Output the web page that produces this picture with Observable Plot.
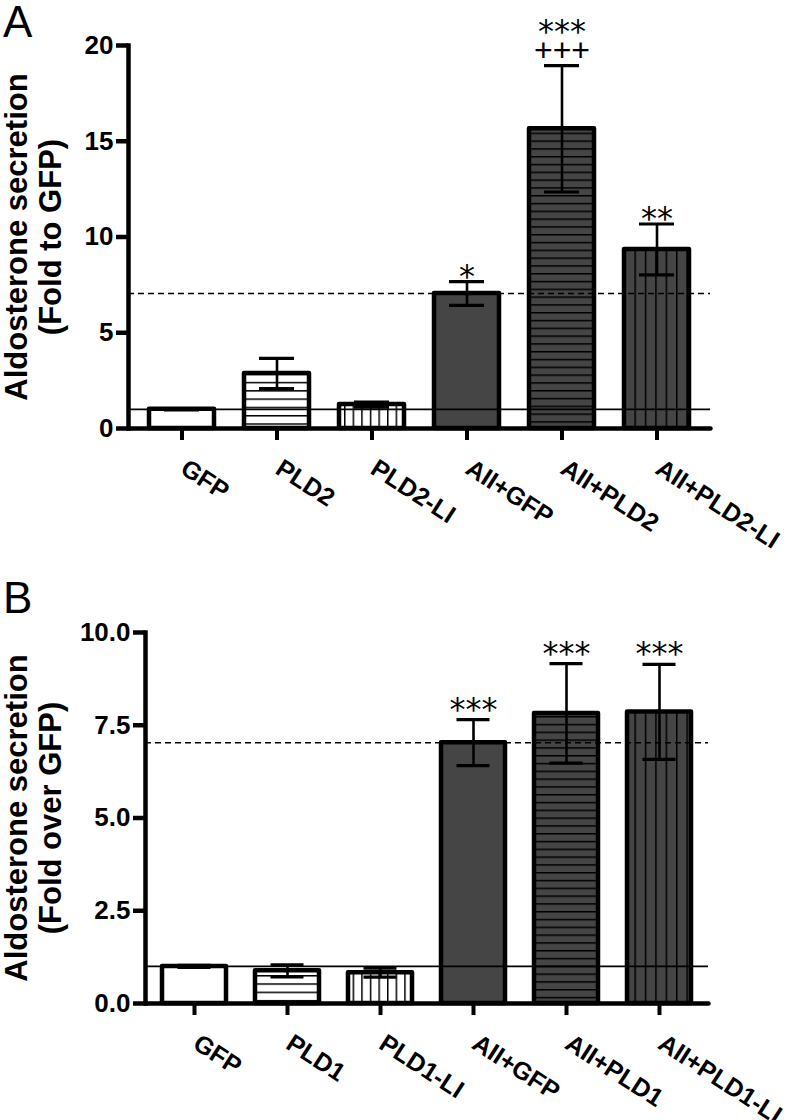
<!DOCTYPE html>
<html>
<head>
<meta charset="utf-8">
<script src="https://cdn.jsdelivr.net/npm/d3@7"></script>
<script src="https://cdn.jsdelivr.net/npm/@observablehq/plot@0.6"></script>
<style>
  body { margin:0; background:#fff; width:800px; height:1120px; position:relative; overflow:hidden;
         font-family:"Liberation Sans", Arial, sans-serif; }
  .panel { position:absolute; left:0; width:800px; height:560px; }
  .letter { position:absolute; left:3px; font-size:44px; line-height:0.8; font-family:"Liberation Sans", Arial, sans-serif; }
</style>
</head>
<body>
<svg width="0" height="0" style="position:absolute;left:0;top:0">
  <defs>
    <pattern id="hWhite" patternUnits="userSpaceOnUse" width="10" height="8.3">
      <rect width="10" height="8.3" fill="#fff"/>
      <line x1="0" x2="10" y1="0.75" y2="0.75" stroke="#000" stroke-width="1.5"/>
    </pattern>
    <pattern id="vWhite" patternUnits="userSpaceOnUse" width="8.6" height="10">
      <rect width="8.6" height="10" fill="#fff"/>
      <line x1="0.75" x2="0.75" y1="0" y2="10" stroke="#000" stroke-width="1.5"/>
    </pattern>
    <pattern id="hDark" patternUnits="userSpaceOnUse" width="10" height="7.8">
      <rect width="10" height="7.8" fill="#454545"/>
      <line x1="0" x2="10" y1="0.75" y2="0.75" stroke="#000" stroke-width="1.5"/>
    </pattern>
    <pattern id="vDark" patternUnits="userSpaceOnUse" width="10.4" height="10">
      <rect width="10.4" height="10" fill="#454545"/>
      <line x1="0.75" x2="0.75" y1="0" y2="10" stroke="#000" stroke-width="1.5"/>
    </pattern>
  </defs>
</svg>
<div class="letter" style="top:4px">A</div>
<div class="letter" style="top:580px">B</div>
<div id="pa" class="panel" style="top:0"></div>
<div id="pb" class="panel" style="top:560px"></div>
<script>
// ---------- Panel A data ----------
const namesA = ["GFP", "PLD2", "PLD2-LI", "AII+GFP", "AII+PLD2", "AII+PLD2-LI"];
const meanA  = [1.0, 2.87, 1.25, 7.05, 15.65, 9.35];
const semA   = [0.03, 0.79, 0.13, 0.62, 3.3, 1.33];
const starA  = ["", "", "", "*", "***", "**"];
const plusA  = ["", "", "", "", "+++", ""];
const ticksA = [0, 5, 10, 15, 20];
const ylabelA = "Aldosterone secretion\n(Fold to GFP)";

// ---------- Panel B data ----------
const namesB = ["GFP", "PLD1", "PLD1-LI", "AII+GFP", "AII+PLD1", "AII+PLD1-LI"];
const meanB  = [1.0, 0.88, 0.83, 7.03, 7.82, 7.86];
const semB   = [0.03, 0.16, 0.12, 0.62, 1.34, 1.28];
const starB  = ["", "", "", "***", "***", "***"];
const plusB  = ["", "", "", "", "", ""];
const ticksB = [0, 2.5, 5, 7.5, 10];
const ylabelB = "Aldosterone secretion\n(Fold over GFP)";

// bar fills (style, by position)
const fills = ["#fff", "url(#hWhite)", "url(#vWhite)", "#454545", "url(#hDark)", "url(#vDark)"];

function panel(cfg) {
  const data = cfg.names.map((name, i) => ({
    name, mean: cfg.means[i], sem: cfg.sems[i], star: cfg.stars[i], plus: cfg.plus[i], fill: fills[i]
  }));
  const starSimple = data.filter(d => d.star && !d.plus);
  const starStacked = data.filter(d => d.star && d.plus);
  const plusD = data.filter(d => d.plus);
  return Plot.plot({
    width: 800, height: 560,
    marginLeft: cfg.ml, marginRight: cfg.mr, marginTop: cfg.mt, marginBottom: cfg.mb,
    style: {fontFamily: "Liberation Sans, Arial, sans-serif", background: "transparent", overflow: "visible"},
    x: {type: "band", domain: cfg.names, paddingInner: cfg.pi, paddingOuter: cfg.po, axis: null},
    y: {domain: [0, cfg.ticks[cfg.ticks.length - 1]], axis: null},
    color: {type: "identity"},
    marks: [
      Plot.barY(data, {x: "name", y: "mean", fill: "fill", stroke: "#000", strokeWidth: 4.5, strokeLinejoin: "round"}),
      Plot.ruleY([cfg.means[0]], {stroke: "#000", strokeWidth: 1.6}),
      Plot.ruleY([cfg.means[3]], {stroke: "#000", strokeWidth: 1.6, strokeDasharray: "6,4"}),
      Plot.ruleX(data, {x: "name", y1: d => d.mean - d.sem, y2: d => d.mean + d.sem, stroke: "#000", strokeWidth: 2.6}),
      Plot.tickY(data, {x: "name", y: d => d.mean + d.sem, stroke: "#000", strokeWidth: 3.2, insetLeft: cfg.cap, insetRight: cfg.cap}),
      Plot.tickY(data, {x: "name", y: d => d.mean - d.sem, stroke: "#000", strokeWidth: 3.2, insetLeft: cfg.cap, insetRight: cfg.cap}),
      Plot.frame({anchor: "left", stroke: "#000", strokeWidth: 4.5}),
      Plot.frame({anchor: "bottom", stroke: "#000", strokeWidth: 4.5, strokeLinecap: "round"}),
      Plot.axisY({ticks: cfg.ticks, tickFormat: cfg.fmt, tickSize: 12, tickPadding: 3, strokeWidth: 4.5,
                  fontSize: 26, fontWeight: "bold", fill: "#000", label: null}),
      Plot.axisX({tickSize: 12, strokeWidth: 4, tickFormat: () => "", label: null}),
      Plot.text(data, {x: "name", text: "name", frameAnchor: "bottom", rotate: 33, textAnchor: "start",
                       lineAnchor: "bottom", dx: -3, dy: 44, fontSize: 25, fontWeight: "bold", fill: "#000"}),
      Plot.text([cfg.ylabel], {text: d => d, frameAnchor: "left", rotate: -90, textAnchor: "middle",
                       lineAnchor: "bottom", lineHeight: 1.097, dx: cfg.ldx, fontSize: 31, fontWeight: "bold", fill: "#000"}),
      Plot.text(starSimple, {x: "name", y: d => d.mean + d.sem, text: "star", lineAnchor: "bottom",
                       dy: cfg.sdy, fontFamily: "DejaVu Sans", fontSize: 32, fill: "#000"}),
      Plot.text(starStacked, {x: "name", y: d => d.mean + d.sem, text: "star", lineAnchor: "bottom",
                       dy: -24, fontFamily: "DejaVu Sans", fontSize: 32, fill: "#000"}),
      Plot.text(plusD, {x: "name", y: d => d.mean + d.sem, text: "plus", lineAnchor: "bottom",
                       dy: -5, fontFamily: "Liberation Sans", fontSize: 32, fill: "#000"})
    ]
  });
}

document.getElementById("pa").append(panel({
  names: namesA, means: meanA, sems: semA, stars: starA, plus: plusA, ticks: ticksA, fmt: d3.format("d"),
  ylabel: ylabelA, ml: 128, mr: 90, mt: 45, mb: 132, pi: 0.32, po: 0.2, cap: 15, sdy: 5, ldx: -68
}));
document.getElementById("pb").append(panel({
  names: namesB, means: meanB, sems: semB, stars: starB, plus: plusB, ticks: ticksB, fmt: d3.format(".1f"),
  ylabel: ylabelB, ml: 145, mr: 92, mt: 72, mb: 117, pi: 0.316, po: 0.17, cap: 15.5, sdy: 0, ldx: -85
}));
</script>
</body>
</html>
